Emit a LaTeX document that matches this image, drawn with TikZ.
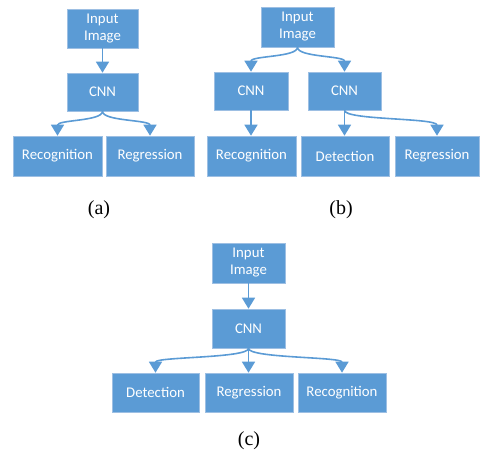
\documentclass[tikz,border=0pt]{standalone}
\usepackage{fontspec}
\setmainfont{Liberation Serif}
\newfontfamily\boxfont{Carlito}
\usetikzlibrary{arrows.meta}
\definecolor{boxblue}{HTML}{5B9BD5}
\definecolor{boxedge}{HTML}{9DBFE3}
\definecolor{arrblue}{HTML}{5B9BD5}
\tikzset{
  blk/.style={draw=boxedge, line width=0.6pt, fill=boxblue, text=white, inner sep=0pt,
    font=\boxfont\fontsize{14.8}{17}\selectfont, align=center},
  conn/.style={draw=arrblue, line width=1.6pt, -{Triangle[width=13pt,length=11pt]}},
  captxt/.style={font=\fontsize{20}{24}\selectfont, inner sep=0pt}
}
\newcommand{\blkat}[6]{% name, x1, y1, x2, y2, text
  \node[blk, minimum width={#4-#2}, minimum height={#5-#3}] (#1) at ({(#2+#4)/2},{(#3+#5)/2}) {#6};}
\begin{document}
\begin{tikzpicture}[x=1pt,y=-1pt]
\useasboundingbox (0,0) rectangle (480,452);
% (a)
\blkat{ainp}{67}{9}{138}{48}{Input\\Image}
\blkat{acnn}{67}{73}{138}{111}{CNN}
\blkat{arec}{13}{136}{102}{176}{Recognition}
\blkat{areg}{106}{136}{194}{176}{Regression}
\draw[conn] (ainp.south) -- (acnn.north);
\draw[conn] (acnn.south) .. controls +(0,10) and +(0,-16) .. (arec.north);
\draw[conn] (acnn.south) .. controls +(0,10) and +(0,-16) .. (areg.north);
\node[captxt] (capa) at (99,210) {(a)};
% (b)
\blkat{binp}{261}{7}{334}{47}{Input\\Image}
\blkat{bcnn1}{214}{72}{288}{110}{CNN}
\blkat{bcnn2}{308}{72}{381}{110}{CNN}
\blkat{brec}{207}{136}{296}{176}{Recognition}
\blkat{bdet}{301}{136}{389}{176}{Detection}
\blkat{breg}{395}{136}{479}{176}{Regression}
\draw[conn] (binp.south) .. controls +(0,10) and +(0,-16) .. (bcnn1.north);
\draw[conn] (binp.south) .. controls +(0,10) and +(0,-16) .. (bcnn2.north);
\draw[conn] (bcnn1.south) -- (bcnn1.south |- brec.north);
\draw[conn] (bcnn2.south) -- (bcnn2.south |- bdet.north);
\draw[conn] (bcnn2.south) .. controls +(0,10) and +(0,-18) .. (breg.north);
\node[captxt] (capb) at (341,210) {(b)};
% (c)
\blkat{cinp}{212}{243}{285}{283}{Input\\Image}
\blkat{ccnn}{212}{309}{285}{348}{CNN}
\blkat{cdet}{112}{373}{199}{412}{Detection}
\blkat{creg}{205}{373}{293}{412}{Regression}
\blkat{crec}{298}{373}{386}{412}{Recognition}
\draw[conn] (cinp.south) -- (ccnn.north);
\draw[conn] (ccnn.south) .. controls +(0,10) and +(0,-16) .. (cdet.north);
\draw[conn] (ccnn.south) -- (ccnn.south |- creg.north);
\draw[conn] (ccnn.south) .. controls +(0,10) and +(0,-16) .. (crec.north);
\node[captxt] (capc) at (249,441) {(c)};
\end{tikzpicture}
\end{document}
